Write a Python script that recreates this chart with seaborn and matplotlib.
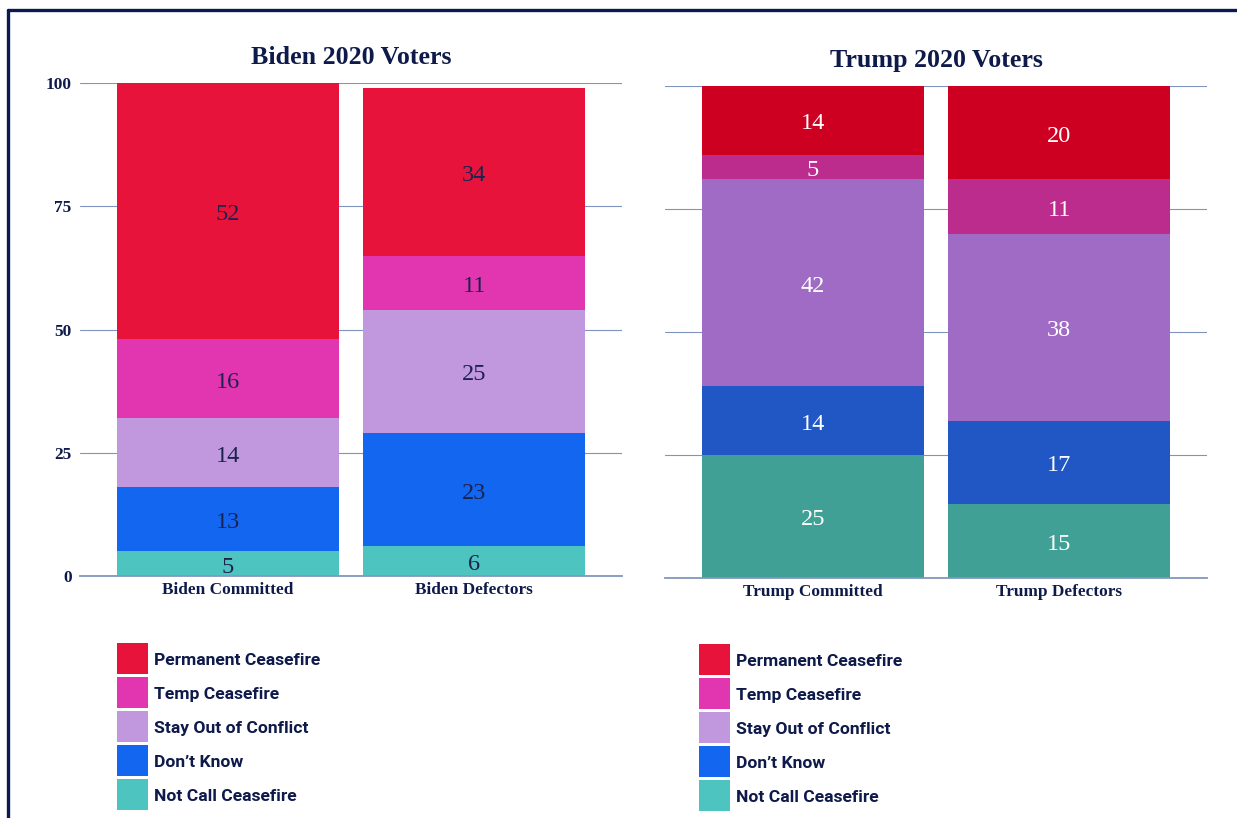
import matplotlib
matplotlib.use("Agg")
import matplotlib.pyplot as plt
import seaborn as sns
import pandas as pd
from matplotlib.patches import Rectangle
from matplotlib.lines import Line2D

# Survey responses, top of the stack first
responses = ["Permanent Ceasefire", "Temp Ceasefire", "Stay Out of Conflict",
             "Don\u2019t Know", "Not Call Ceasefire"]

biden_groups = ["Biden Committed", "Biden Defectors"]
biden_committed = [52, 16, 14, 13, 5]
biden_defectors = [34, 11, 25, 23, 6]

trump_groups = ["Trump Committed", "Trump Defectors"]
trump_committed = [14, 5, 42, 14, 25]
trump_defectors = [20, 11, 38, 17, 15]

yticks = [0, 25, 50, 75, 100]

biden_colors = ["#E8133A", "#E236B0", "#C197DE", "#1366F0", "#4DC4BF"]
trump_colors = ["#CE0022", "#BB2C8C", "#A06BC4", "#2057C5", "#41A095"]

NAVY = "#0e1a4a"
SERIF = "Liberation Serif"
W, H = 1237, 818

sns.set_theme(style="white")
plt.rcParams["font.family"] = ["Liberation Serif", "DejaVu Serif"]


def long_table(groups, series):
    rows = []
    for g, vals in zip(groups, series):
        for r, v in zip(responses, vals):
            rows.append({"group": g, "response": r, "share": v})
    return pd.DataFrame(rows)


def draw_key(fig, x0, y0, colors):
    """Column of colour squares with bold labels, (x0, y0) = top-left in px."""
    size, step = 31, 34
    for i, (c, name) in enumerate(zip(colors, responses)):
        top = y0 + i * step
        fig.add_artist(Rectangle((x0 / W, 1 - (top + size) / H), size / W, size / H,
                                 transform=fig.transFigure, facecolor=c,
                                 edgecolor="none"))
        fig.text((x0 + size + 6) / W, 1 - (top + size / 2 + 2) / H, name,
                 ha="left", va="center", color=NAVY, fontsize=12.6,
                 fontweight="bold", family="Roboto")


fig = plt.figure(figsize=(W / 100, H / 100), dpi=100)
ax1 = fig.add_axes([80 / W, 1 - 576 / H, 542 / W, 493 / H])
ax2 = fig.add_axes([665 / W, 1 - 578 / H, 542 / W, 492 / H])

panels = [
    (ax1, biden_groups, [biden_committed, biden_defectors], biden_colors,
     "Biden 2020 Voters", "#1b2250", True, (117, 643)),
    (ax2, trump_groups, [trump_committed, trump_defectors], trump_colors,
     "Trump 2020 Voters", "white", False, (699, 644)),
]

for ax, groups, series, colors, title, label_color, show_y, key_pos in panels:
    df = long_table(groups, series)
    sns.histplot(data=df, x="group", hue="response", weights="share",
                 hue_order=responses, palette=dict(zip(responses, colors)),
                 multiple="stack", discrete=True, shrink=0.9, alpha=1,
                 linewidth=0, legend=False, ax=ax)
    for cont in ax.containers:
        texts = ax.bar_label(cont, fmt="{:.0f}", label_type="center",
                             fontsize=17.5, color=label_color, family=SERIF)
        for t in texts:
            t.xyann = (0, -2.5)
    ax.set_xlim(-0.6, 1.6)
    ax.set_ylim(0, 100)
    ax.set_yticks(yticks)
    ax.set_xlabel("")
    ax.set_ylabel("")
    ax.yaxis.grid(True, color="#7f93bf", linewidth=0.8)
    ax.set_axisbelow(True)
    for side in ["top", "right", "left"]:
        ax.spines[side].set_visible(False)
    ax.spines["bottom"].set_color("#8496bc")
    ax.spines["bottom"].set_linewidth(1.3)
    ax.tick_params(axis="both", length=0)
    ax.tick_params(axis="x", pad=4)
    ax.tick_params(axis="y", pad=6)
    for lbl in ax.get_xticklabels():
        lbl.set_fontweight("bold")
        lbl.set_fontsize(12.4)
        lbl.set_color(NAVY)
    if show_y:
        for lbl in ax.get_yticklabels():
            lbl.set_fontweight("bold")
            lbl.set_fontsize(12.4)
            lbl.set_color(NAVY)
    else:
        ax.set_yticklabels([])
    ax.set_title(title, fontsize=18.7, fontweight="bold", color=NAVY, pad=14)
    draw_key(fig, key_pos[0], key_pos[1], biden_colors)

# Frame lines along the top and left edges
fig.add_artist(Line2D([8 / W, 1], [1 - 10 / H, 1 - 10 / H],
                      transform=fig.transFigure, color="#0b1a4e", linewidth=2.4))
fig.add_artist(Line2D([8 / W, 8 / W], [0, 1 - 10 / H],
                      transform=fig.transFigure, color="#0b1a4e", linewidth=2.4))

fig.savefig("out.png", dpi=100, facecolor="white")
